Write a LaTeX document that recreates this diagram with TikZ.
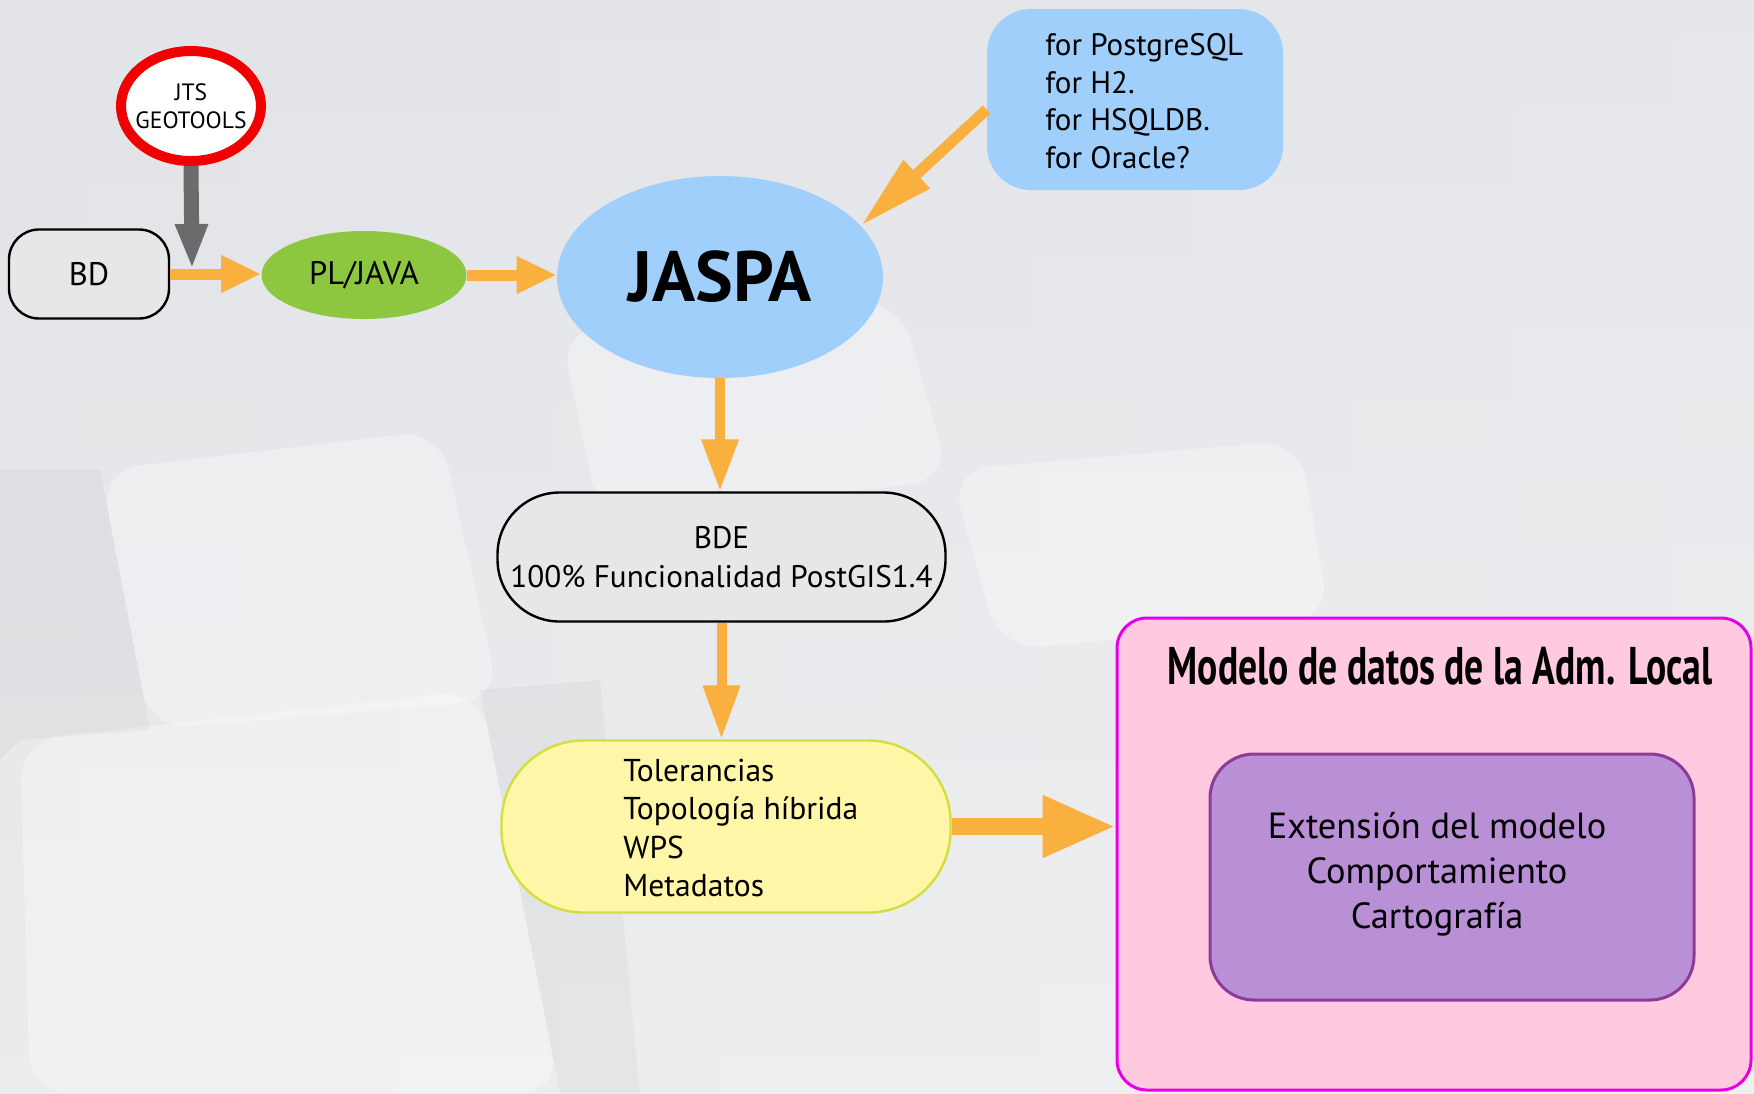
\documentclass[tikz,border=0pt]{standalone}
\usepackage{fontspec}
\setmainfont{PT Sans}
\newfontfamily\condfont[FakeStretch=0.71]{PT Sans}
\usetikzlibrary{arrows.meta,shapes.geometric,calc}
\definecolor{orangeA}{HTML}{F9B03F}
\definecolor{grayA}{HTML}{6B6B6B}
\definecolor{redA}{HTML}{F00000}
\definecolor{greenA}{HTML}{8DC63F}
\definecolor{blueA}{HTML}{9FCFFA}
\definecolor{boxgray}{HTML}{E7E7E7}
\definecolor{yellowF}{HTML}{FFF6A8}
\definecolor{yellowD}{HTML}{D3DE3F}
\definecolor{pinkF}{HTML}{FFCAE0}
\definecolor{pinkD}{HTML}{E600E6}
\definecolor{purpleF}{HTML}{B98FD6}
\definecolor{purpleD}{HTML}{8E3A98}
\definecolor{bgA}{HTML}{E1E3E7}
\definecolor{bgB}{HTML}{ECEEF1}
\definecolor{bgC}{HTML}{F2F2F2}
\begin{document}
\begin{tikzpicture}[x=0.5pt,y=-0.5pt,
  grayboxstyle/.style={rectangle, draw=black, line width=1.2pt, fill=boxgray, inner sep=0pt, align=center},
  fontA/.style={font=\fontsize{15.6}{19.5}\selectfont},
  orangeline/.style={draw=orangeA},
]
\useasboundingbox (0,0) rectangle (1754,1093);
% background
\shade[left color=bgA, right color=bgB] (0,0) rectangle (1754,1093);
\shade[top color=bgA, bottom color=bgC, opacity=0.6] (0,0) rectangle (1754,1093);
\begin{scope}[opacity=0.3]
  \fill[white, rounded corners=20pt] (20,740) -- (480,690) -- (560,1093) -- (30,1093) -- cycle;
  \fill[white, rounded corners=20pt] (100,470) -- (440,430) -- (500,700) -- (150,730) -- cycle;
  \fill[white, rounded corners=20pt] (950,470) -- (1300,440) -- (1330,620) -- (1000,650) -- cycle;
  \fill[white, rounded corners=20pt] (560,330) -- (900,300) -- (950,480) -- (600,520) -- cycle;
\end{scope}
\begin{scope}[opacity=0.03]
  \fill[black] (0,470) -- (100,470) -- (150,730) -- (20,740) -- (0,760) -- cycle;
  \fill[black] (480,690) -- (600,680) -- (640,1093) -- (560,1093) -- cycle;
\end{scope}

% nodes
\node[ellipse, draw=redA, line width=5pt, fill=white, minimum width=70pt, minimum height=55pt,
      inner xsep=-10pt, inner ysep=0pt, align=center, font=\fontsize{11.8}{14}\selectfont] (jts) at (191,106) {JTS\\GEOTOOLS};
\node[grayboxstyle, rounded corners=15pt, minimum width=80pt, minimum height=44.5pt,
      font=\fontsize{16.3}{19}\selectfont] (bd) at (89,274) {BD};
\node[ellipse, fill=greenA, minimum width=102.5pt, minimum height=44pt, inner sep=0pt,
      font=\fontsize{16.3}{18}\selectfont] (pljava) at (364,275) {PL/JAVA};
\node[ellipse, fill=blueA, minimum width=163pt, minimum height=101pt, inner sep=0pt,
      font=\fontsize{35.6}{40}\selectfont\bfseries] (jaspa) at (720,277) {JASPA};
\node[rectangle, fill=blueA, rounded corners=22pt, minimum width=148pt, minimum height=90.5pt] (dbs) at (1135,99.5) {};
\node[anchor=west, align=left, inner sep=0pt, font=\fontsize{15.5}{18.85}\selectfont] (dbstext) at (1045,101)
  {for PostgreSQL\\for H2.\\for HSQLDB.\\for Oracle?};
\node[grayboxstyle, rounded corners=31pt, minimum width=224pt, minimum height=64.5pt, fontA] (bde) at (721.5,557)
  {BDE\\100\% Funcionalidad PostGIS1.4};
\node[rectangle, draw=yellowD, line width=1.2pt, fill=yellowF, rounded corners=41pt,
      minimum width=224.5pt, minimum height=86pt] (tol) at (726,826.5) {};
\node[anchor=west, align=left, inner sep=0pt, font=\fontsize{15.8}{19.25}\selectfont] (toltext) at (623,828)
  {Tolerancias\\Topología híbrida\\WPS\\Metadatos};
\node[rectangle, draw=pinkD, line width=1.5pt, fill=pinkF, rounded corners=15pt,
      minimum width=317pt, minimum height=236pt] (pink) at (1434,854) {};
\node[font=\fontsize{26.5}{30}\condfont\bfseries, inner sep=0pt] (title) at (1440,666) {Modelo de datos de la Adm. Local};
\node[rectangle, draw=purpleD, line width=1.5pt, fill=purpleF, rounded corners=22pt,
      minimum width=242pt, minimum height=123pt] (purple) at (1452,877) {};
\node[align=center, inner sep=0pt, font=\fontsize{18.2}{22.5}\selectfont] (purpletext) at (1437,874)
  {Extensión del modelo\\Comportamiento\\Cartografía};

% connectors
\coordinate (gtip) at (192,269);
\draw[orangeline, line width=5.5pt, -{Triangle[width=17.5pt,length=20pt]}] (bd.east) -- (bd.east -| pljava.west);
\draw[draw=grayA, line width=7.5pt, -{Triangle[width=15pt,length=22.5pt]}] (jts.south) -- (gtip);
\draw[orangeline, line width=5.5pt, -{Triangle[width=17.5pt,length=20pt]}] (pljava.east) -- (pljava.east -| jaspa.west);
\draw[orangeline, line width=5.5pt, -{Triangle[width=18pt,length=38pt]}] ($(dbs.west)+(0,10)$) -- (jaspa.20);
\draw[orangeline, line width=5pt, -{Triangle[width=17.5pt,length=26pt]}] (jaspa.south) -- (jaspa.south |- bde.north);
\draw[orangeline, line width=5pt, -{Triangle[width=17.5pt,length=27pt]}] (bde.south) -- (bde.south |- tol.north);
\draw[orangeline, line width=8.5pt, -{Triangle[width=29pt,length=36.5pt]}] (tol.east) -- (tol.east -| pink.west);
\end{tikzpicture}
\end{document}
